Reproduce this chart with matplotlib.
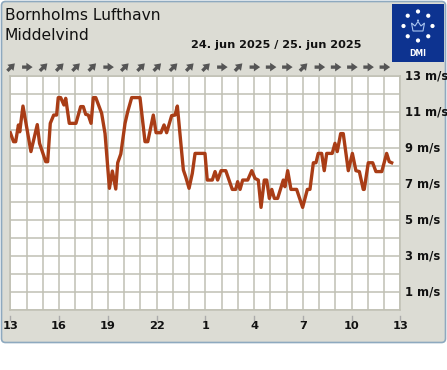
import matplotlib
matplotlib.use("Agg")
import matplotlib.pyplot as plt
from matplotlib.patches import FancyBboxPatch, Rectangle, Circle, Polygon
from matplotlib.transforms import offset_copy
import numpy as np

# =========================
# DATA
# =========================
# hours after 13:00 on 24 jun, wind speed in m/s
hours = [0.0, 0.2, 0.33, 0.5, 0.58, 0.78, 1.27, 1.66, 1.8, 2.18, 2.3, 2.46, 2.67, 2.85,
         2.95, 3.1, 3.3, 3.41, 3.63, 4.04, 4.33, 4.49, 4.64, 4.8, 4.97, 5.11, 5.26, 5.62,
         5.83, 6.1, 6.28, 6.49, 6.61, 6.8, 7.06, 7.22, 7.47, 7.98, 8.29, 8.46, 8.8, 8.97,
         9.27, 9.46, 9.62, 9.93, 10.14, 10.28, 10.65, 10.79, 11.0, 11.2, 11.37, 11.98,
         12.12, 12.43, 12.6, 12.76, 12.97, 13.26, 13.66, 13.87, 13.99, 14.14, 14.3, 14.61,
         14.86, 15.06, 15.26, 15.43, 15.63, 15.78, 15.94, 16.09, 16.25, 16.45, 16.8, 16.9,
         17.07, 17.27, 17.62, 17.99, 18.28, 18.44, 18.65, 18.81, 18.95, 19.16, 19.32,
         19.47, 19.81, 19.98, 20.12, 20.33, 20.49, 20.8, 21.05, 21.27, 21.48, 21.72,
         21.78, 22.03, 22.3, 22.5, 22.86, 23.16, 23.32, 23.47]
speed = [9.85, 9.35, 9.35, 10.28, 9.9, 11.33, 8.8, 10.3, 9.26, 8.24, 8.24, 10.37, 10.83, 10.83,
         11.8, 11.8, 11.39, 11.76, 10.37, 10.37, 11.3, 11.3, 10.87, 10.83, 10.37, 11.8, 11.8, 10.93,
         9.8, 6.76, 7.72, 6.72, 8.18, 8.67, 10.37, 11.0, 11.8, 11.8, 9.35, 9.35, 10.83, 9.85,
         9.85, 10.28, 9.85, 10.8, 10.83, 11.33, 7.78, 7.41, 6.76, 7.59, 8.7, 8.7,
         7.22, 7.22, 7.69, 7.22, 7.74, 7.74, 6.7, 6.7, 7.13, 6.7, 7.22, 7.22,
         7.74, 7.31, 7.22, 5.7, 7.22, 7.22, 6.2, 6.7, 6.2, 6.2, 7.22, 6.85,
         7.74, 6.7, 6.7, 5.7, 6.7, 6.7, 8.18, 8.18, 8.7, 8.7, 7.74,
         8.7, 8.7, 9.26, 8.8, 9.8, 9.8, 7.74, 8.7, 7.74, 7.69, 6.7,
         6.7, 8.18, 8.18, 7.69, 7.69, 8.7, 8.24, 8.18]

# wind direction (from, degrees) for each hour
wind_dir = [225, 270, 225, 225, 225, 225, 270, 225, 225, 225, 225, 225,
            225, 270, 225, 270, 270, 270, 225, 270, 270, 270, 270, 270]

x_labels = ["13", "16", "19", "22", "1", "4", "7", "10", "13"]
y_labels = [f"{v} m/s" for v in [1, 3, 5, 7, 9, 11, 13]]

station = "Bornholms Lufthavn"
param = "Middelvind"
date_text = "24. jun 2025 / 25. jun 2025"

W, H = 447, 370
BG = "#dcdcd4"
GRID = "#c0c0b4"
LINE = "#a93d16"

# =========================
# FIGURE + BACKGROUND LAYER (pixel coords)
# =========================
fig = plt.figure(figsize=(W / 100, H / 100), dpi=100)
fig.patch.set_facecolor("white")

bg = fig.add_axes([0, 0, 1, 1], zorder=0)
bg.set_xlim(0, W)
bg.set_ylim(H, 0)
bg.axis("off")

bg.add_patch(FancyBboxPatch((1.5, 1.5), W - 3, 341, boxstyle="round,pad=0,rounding_size=4",
                            facecolor=BG, edgecolor="#8ea9bf", linewidth=1.2))

bg.text(5, 16, station, fontsize=11.2, va="center", ha="left", color="#111111")
bg.text(5, 35, param, fontsize=11.2, va="center", ha="left", color="#111111")
bg.text(276, 45.5, date_text, fontsize=8.1, fontweight="bold", va="center", ha="center",
        color="#111111")

# DMI logo
bg.add_patch(Rectangle((392, 4), 52, 58, facecolor="#0d3390", edgecolor="none"))
cx, cy, r = 418, 26, 14.5
for a in np.arange(0, 360, 45):
    bg.add_patch(Circle((cx + r * np.cos(np.radians(a)), cy + r * np.sin(np.radians(a))), 2.1,
                        facecolor="white", edgecolor="none"))
crown = [(413, 31), (423, 31), (424.5, 23), (421, 26), (418, 21.5), (415, 26), (411.5, 23)]
bg.add_patch(Polygon(crown, closed=True, facecolor="none", edgecolor="#a9c4ef", linewidth=0.8))
bg.add_patch(Circle((418, 20.5), 1.0, facecolor="#a9c4ef", edgecolor="none"))
bg.text(418, 54, "DMI", fontsize=5.5, fontweight="bold", color="white", ha="center", va="center")

# =========================
# MAIN PLOT
# =========================
left, right, top, bottom = 10.3, 400.3, 76, 310
ax = fig.add_axes([left / W, 1 - bottom / H, (right - left) / W, (bottom - top) / H], zorder=1)
ax.set_facecolor("white")
ax.set_xlim(0, 24)
ax.set_ylim(0, 13)

ax.set_xticks(np.arange(0, 25, 1), minor=True)
ax.set_yticks(np.arange(0, 14, 1), minor=True)
ax.set_xticks([])
ax.set_yticks([])
ax.grid(True, which="minor", color=GRID, linewidth=1.1)
ax.tick_params(which="both", length=0)
for s in ax.spines.values():
    s.set_color(GRID)
    s.set_linewidth(1.1)

ax.plot(hours, speed, color=LINE, linewidth=2.4, solid_joinstyle="round", zorder=3)

# y labels on right
ytr = ax.get_yaxis_transform()
for i, lab in enumerate(y_labels):
    v = 1 + 2 * i
    ax.text(1.011, v, lab, transform=ytr, fontsize=8.3, fontweight="bold", ha="left",
            va="center", color="#111111", clip_on=False)

# x labels + tick marks
xtr = ax.get_xaxis_transform()
for i, lab in enumerate(x_labels):
    hx = 3 * i
    ax.plot([hx, hx], [-0.026, -0.043], transform=xtr, color="#aaaaaa", linewidth=1,
            clip_on=False)
    ax.text(hx, -0.069, lab, transform=xtr, fontsize=8.2, fontweight="bold", ha="center",
            va="center", color="#111111", clip_on=False)

# wind direction arrows (pointing where the wind blows to)
half = 3.8  # half arrow length in points
for hx, d in enumerate(wind_dir):
    ang = np.radians(270 - d)
    dx, dy = half * np.cos(ang), half * np.sin(ang)
    head = offset_copy(xtr, fig=fig, x=dx, y=dy, units="points")
    tail = offset_copy(xtr, fig=fig, x=-dx, y=-dy, units="points")
    ax.annotate("", xy=(hx + 0.05, 1.038), xycoords=head,
                xytext=(hx + 0.05, 1.038), textcoords=tail,
                arrowprops=dict(arrowstyle="simple,head_length=0.45,head_width=0.62,tail_width=0.24",
                                mutation_scale=10, facecolor="#555555", edgecolor="none",
                                shrinkA=0, shrinkB=0),
                annotation_clip=False)

fig.savefig("out.png", dpi=100, facecolor=fig.get_facecolor())
plt.close(fig)
